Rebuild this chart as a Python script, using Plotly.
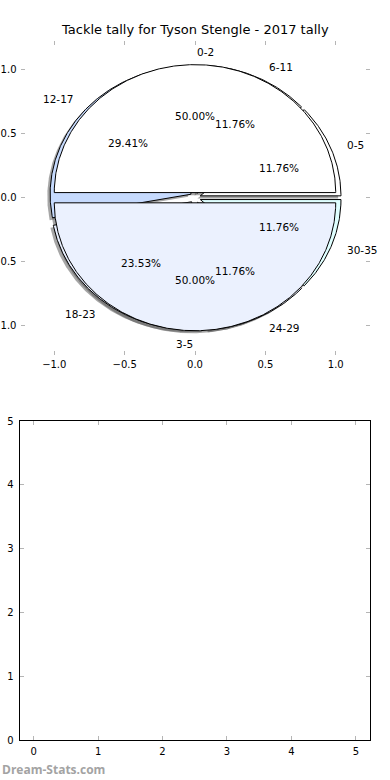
import numpy as np
import plotly.graph_objects as go

# ---------------- data ----------------
title_text = "Tackle tally for Tyson Stengle - 2017 tally"

inner_labels = ["0-2", "3-5"]
inner_values = [50.0, 50.0]
inner_colors = ["#FFFFFF", "#EBF1FE"]

outer_labels = ["0-5", "6-11", "12-17", "18-23", "24-29", "30-35"]
outer_values = [2, 2, 5, 4, 2, 2]
outer_colors = ["#FFFFFF", "#FFFFFF", "#C6DAFD", "#E8EFFE", "#EBF1FE", "#DFFFFF"]

pie_ticks = [-1.0, -0.5, 0.0, 0.5, 1.0]
pie_tick_text = ["\u22121.0", "\u22120.5", "0.0", "0.5", "1.0"]

bottom_xticks = [0, 1, 2, 3, 4, 5]
bottom_yticks = [0, 1, 2, 3, 4, 5]

watermark = "Dream-Stats.com"

# ---------------- geometry helpers ----------------
EXPLODE = 0.04
SHADOW = 0.02
LABEL_DIST = 1.1
PCT_DIST = 0.6
FONT = "DejaVu Sans"
W, H = 390, 780


def slices(values):
    total = float(sum(values))
    out = []
    start = 0.0
    for v in values:
        end = start + 360.0 * v / total
        out.append((start, end, 100.0 * v / total))
        start = end
    return out


def wedge_xy(t1, t2, cx, cy, r=1.0):
    n = max(3, int(abs(t2 - t1) / 0.5) + 2)
    th = np.radians(np.linspace(t1, t2, n))
    xs = np.concatenate([[cx], cx + r * np.cos(th), [cx]])
    ys = np.concatenate([[cy], cy + r * np.sin(th), [cy]])
    return xs, ys


def pie_parts(labels, values, colors):
    parts = []
    for lab, (t1, t2, pct), col in zip(labels, slices(values), colors):
        mid = np.radians((t1 + t2) / 2.0)
        cx, cy = EXPLODE * np.cos(mid), EXPLODE * np.sin(mid)
        parts.append(dict(label=lab, t1=t1, t2=t2, pct=pct, color=col,
                          cx=cx, cy=cy, mid=mid))
    return parts


outer = pie_parts(outer_labels, outer_values, outer_colors)
inner = pie_parts(inner_labels, inner_values, inner_colors)

fig = go.Figure()

# shadows (below every wedge)
for p in outer + inner:
    xs, ys = wedge_xy(p["t1"], p["t2"], p["cx"] - SHADOW, p["cy"] - SHADOW)
    fig.add_trace(go.Scatter(x=xs, y=ys, mode="lines", fill="toself",
                             fillcolor="rgba(77,77,77,0.5)",
                             line=dict(width=0, color="rgba(0,0,0,0)"),
                             hoverinfo="skip", showlegend=False,
                             xaxis="x", yaxis="y"))

# wedges: outer pie first, inner pie on top
for p in outer + inner:
    xs, ys = wedge_xy(p["t1"], p["t2"], p["cx"], p["cy"])
    fig.add_trace(go.Scatter(x=xs, y=ys, mode="lines", fill="toself",
                             fillcolor=p["color"],
                             line=dict(width=1, color="black"),
                             hoverinfo="skip", showlegend=False,
                             xaxis="x", yaxis="y"))

annotations = []
for p in outer + inner:
    lx = p["cx"] + LABEL_DIST * np.cos(p["mid"])
    ly = p["cy"] + LABEL_DIST * np.sin(p["mid"])
    annotations.append(dict(x=lx, y=ly, xref="x", yref="y", text=p["label"],
                            showarrow=False, xanchor="left" if lx > 0 else "right",
                            yanchor="middle", font=dict(family=FONT, size=10.5, color="black")))
    px = p["cx"] + PCT_DIST * np.cos(p["mid"])
    py = p["cy"] + PCT_DIST * np.sin(p["mid"])
    annotations.append(dict(x=px, y=py, xref="x", yref="y", text="%.2f%%" % p["pct"],
                            showarrow=False, xanchor="center", yanchor="middle",
                            font=dict(family=FONT, size=10.5, color="black")))

# empty lower axes
fig.add_trace(go.Scatter(x=[], y=[], mode="markers", showlegend=False,
                         xaxis="x2", yaxis="y2"))

annotations.append(dict(x=0, y=1 - 769 / H, xref="paper", yref="paper",
                        text="<b>%s</b>" % watermark, showarrow=False,
                        xanchor="left", yanchor="middle",
                        font=dict(family="Open Sans", size=12, color="#a3a3a3")))
annotations.append(dict(x=195 / W, y=1 - 29.5 / H, xref="paper", yref="paper",
                        text=title_text, showarrow=False,
                        xanchor="center", yanchor="middle",
                        font=dict(family=FONT, size=13, color="black")))

tick_common = dict(ticks="inside", ticklen=4, tickwidth=1, tickcolor="#b5b5b5",
                   showgrid=False, zeroline=False, automargin=False,
                   tickfont=dict(family=FONT, size=10, color="black"))

fig.update_layout(
    template="none",
    width=W, height=H,
    margin=dict(l=0, r=0, t=0, b=0, pad=0),
    paper_bgcolor="white", plot_bgcolor="rgba(0,0,0,0)",
    showlegend=False, hovermode=False,
    annotations=annotations,
    xaxis=dict(domain=[20.5 / W, 369.5 / W], range=[-1.24, 1.24], anchor="y",
               tickvals=pie_ticks, ticktext=pie_tick_text, ticklabelstandoff=2,
               showline=False, mirror="ticks", **tick_common),
    yaxis=dict(domain=[1 - 354.7 / H, 1 - 40.7 / H], range=[-1.227, 1.227], anchor="x",
               tickvals=pie_ticks, ticktext=pie_tick_text, ticklabelstandoff=3,
               showline=False, mirror="ticks", **tick_common),
    xaxis2=dict(domain=[19.5 / W, 370 / W], range=[-0.22, 5.22], anchor="y2",
                tickvals=bottom_xticks, ticktext=[str(v) for v in bottom_xticks],
                ticklabelstandoff=2,
                showline=True, linecolor="black", linewidth=1, mirror="ticks",
                **tick_common),
    yaxis2=dict(domain=[1 - 740 / H, 1 - 421 / H], range=[0, 5], anchor="x2",
                tickvals=bottom_yticks, ticktext=[str(v) for v in bottom_yticks],
                ticklabelstandoff=3,
                showline=True, linecolor="black", linewidth=1, mirror="ticks",
                **tick_common),
)

fig.write_html("out.html")
